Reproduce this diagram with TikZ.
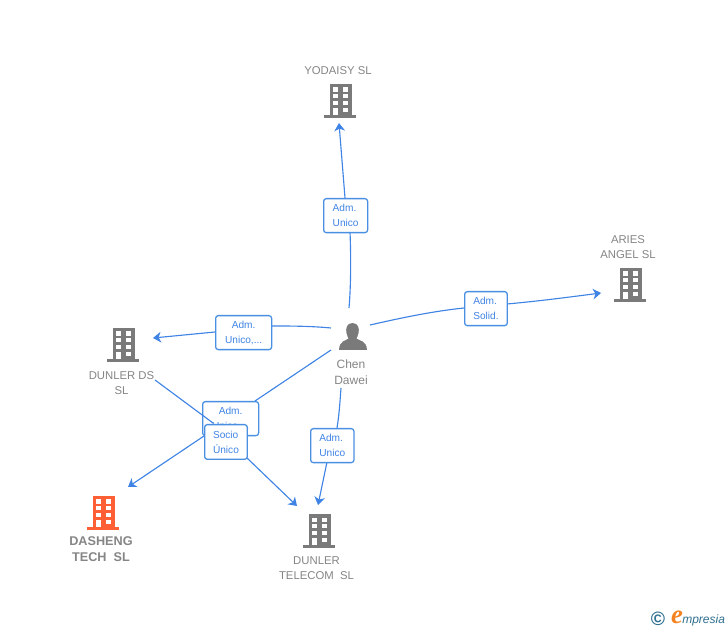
\documentclass[tikz,border=0pt]{standalone}
\usepackage{fontspec}
\setmainfont{Liberation Sans}
\newfontfamily\logofont{Liberation Serif}
\usetikzlibrary{arrows.meta}
\definecolor{linkblue}{HTML}{3F84E5}
\definecolor{boxblue}{HTML}{4A90E2}
\definecolor{icongray}{HTML}{7A7A7A}
\definecolor{labelgray}{HTML}{858585}
\definecolor{dashorange}{HTML}{FF5F35}
\definecolor{logoteal}{HTML}{2F6F8F}
\definecolor{logoorange}{HTML}{F58220}
\tikzset{
  x=0.75pt,y=-0.75pt,
  link/.style={draw=linkblue,line width=0.85pt},
  linkarrow/.style={link,-{Stealth[length=6pt,width=8pt,inset=1.8pt]}},
  rolebox/.style={draw=boxblue,line width=0.95pt,rounded corners=2pt,fill=white,
    inner sep=0pt,anchor=north west,
    text=linkblue,font=\fontsize{7.6pt}{11.2pt}\selectfont,align=center},
  roleleft/.style={rolebox,align=left},
  namelabel/.style={text=labelgray,font=\fontsize{8.5pt}{11.4pt}\selectfont,align=center,inner sep=0pt},
  boldlabel/.style={namelabel,font=\bfseries\fontsize{9.5pt}{11.8pt}\selectfont},
  pics/bldg/.style={code={
    \fill[#1] (-10.5,-34) rectangle (11.5,-3);
    \fill[#1] (-16,-3) rectangle (16,0);
    \foreach \wx in {-7,2.5}{\foreach \wy in {-30.5,-23.8,-17}{\fill[white] (\wx,\wy) rectangle ++(5,4.2);}}
    \fill[white] (2.5,-10.3) rectangle ++(5,4.2);
    \fill[white] (-7,-10.3) rectangle (-2,-3);
  }},
}
\begin{document}
\begin{tikzpicture}
\useasboundingbox (0,0) rectangle (728,630);
% company icons
\pic at (340,118) {bldg=icongray};
\pic at (630,302) {bldg=icongray};
\pic at (123,362) {bldg=icongray};
\pic at (103,530) {bldg=dashorange};
\pic at (319,548) {bldg=icongray};
% person
\coordinate (person) at (353,336);
\fill[icongray] (352.5,323) .. controls (346.5,323) and (345.5,329) .. (346.5,333)
  .. controls (347,336) and (348,337) .. (348.5,338.5)
  .. controls (346,341) and (339.5,340) .. (339,350) -- (367,350)
  .. controls (366.5,340) and (359,341) .. (356.5,338.5)
  .. controls (357,337) and (358,336) .. (358.5,333)
  .. controls (359.5,329) and (358.5,323) .. (352.5,323) -- cycle;
% labels
\node[namelabel] (yodaisy) at (338,70.5) {YODAISY SL};
\node[namelabel] (aries) at (628,247) {ARIES\\ANGEL SL};
\node[namelabel] (dunlerds) at (121.5,383) {DUNLER DS\\SL};
\node[boldlabel] (dasheng) at (101,549.5) {DASHENG\\TECH\ \ SL};
\node[namelabel] (telecom) at (316.5,568) {DUNLER\\TELECOM\ \ SL};
\node[namelabel,font=\fontsize{9pt}{11.6pt}\selectfont] (chen) at (351,372) {Chen\\Dawei};
% connector ends
\coordinate (yS) at (349,308);
\coordinate (yE) at (339,123);
\coordinate (aS) at (370,325);
\coordinate (aE) at (601,293);
\coordinate (dS) at (331,328);
\coordinate (dE) at (153,338);
\coordinate (tS) at (341,388);
\coordinate (tE) at (318,505);
\coordinate (hS) at (331,350);
\coordinate (hE) at (128,487);
\coordinate (sS) at (155,380);
\coordinate (sE) at (297,506);
% connectors below the boxes
\draw[link] (yS) .. controls (351,285) and (351,255) .. (350,232);
\draw[linkarrow] (345,198) -- (yE);
\draw[link] (aS) .. controls (405,317) and (435,311) .. (464,308);
\draw[linkarrow] (507,304) .. controls (540,301) and (570,297) .. (aE);
\draw[link] (dS) .. controls (310,326) and (290,326) .. (271,326);
\draw[linkarrow] (215,332) -- (dE);
\draw[link] (tS) .. controls (340,402) and (339,416) .. (337,428);
\draw[linkarrow] (327,462) -- (tE);
\draw[link] (hS) -- (255,401);
\draw[linkarrow] (204,436) -- (hE);
\draw[linkarrow] (247,458) -- (sE);
% role boxes
\node[roleleft,minimum width=33pt,minimum height=25.5pt] (b1) at (323,198) {Adm.\\Unico};
\node[roleleft,minimum width=32pt,minimum height=25.5pt] (b2) at (464,291) {Adm.\\Solid.};
\node[rolebox,minimum width=42pt,minimum height=25.5pt] (b3) at (215,315) {Adm.\\Unico,...};
\node[roleleft,minimum width=32.5pt,minimum height=25.5pt] (b4) at (310,428) {Adm.\\Unico};
\node[rolebox,minimum width=42pt,minimum height=25.5pt] (b5) at (202,401) {Adm.\\Unico,...};
\draw[link] (sS) -- (213,423);
\node[roleleft,minimum width=32pt,minimum height=26pt] (b6) at (204,424) {Socio\\Único};
% logo
\node[inner sep=0pt,text=logoteal,font=\bfseries\fontsize{14.5pt}{14pt}\selectfont] (copyr) at (658,619) {©};
\node[inner sep=0pt,text=logoorange,font=\logofont\itshape\bfseries\fontsize{20pt}{20pt}\selectfont] (logoe) at (677,617) {e};
\node[inner sep=0pt,anchor=base west,text=logoteal,font=\itshape\fontsize{9pt}{12pt}\selectfont] (logot) at (682,623) {mpresia};
\end{tikzpicture}
\end{document}
